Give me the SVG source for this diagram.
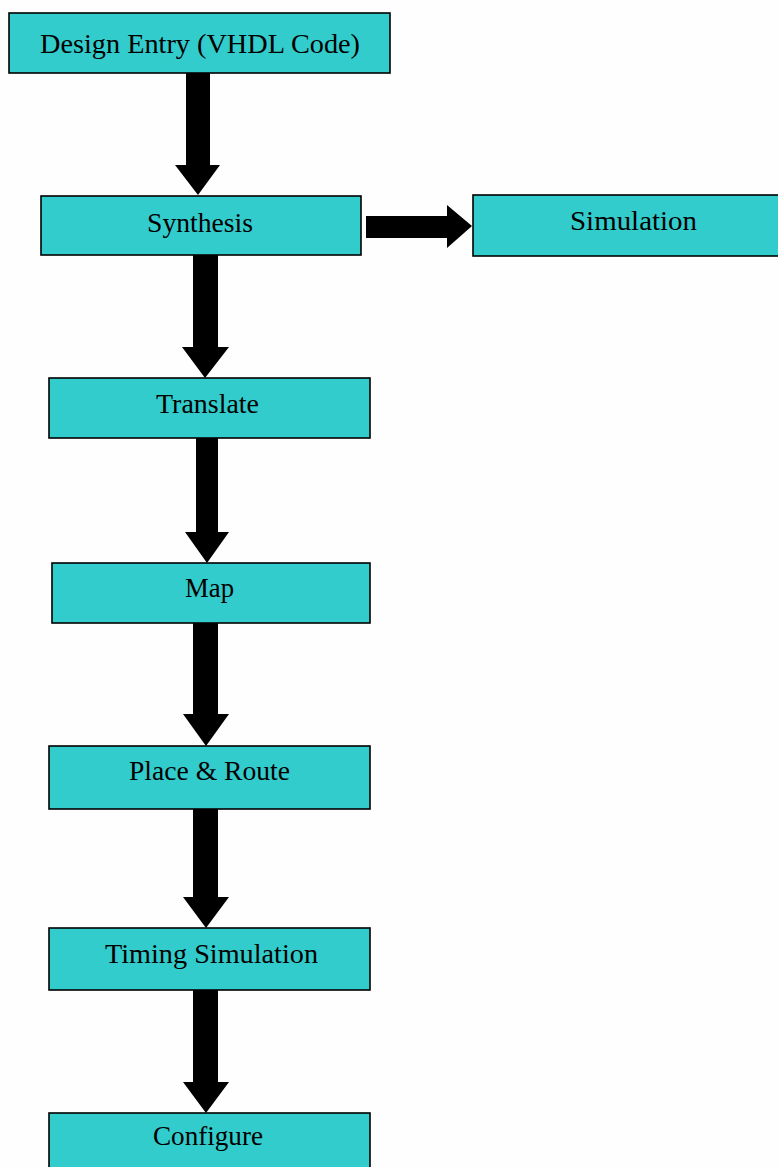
<svg xmlns="http://www.w3.org/2000/svg" width="778" height="1167" viewBox="0 0 778 1167">
  <style>
    .box { fill: #33CCCC; stroke: #000; stroke-width: 1.6; }
    .lbl { font-family: "Liberation Serif", "Times New Roman", serif; font-size: 28px; fill: #000; text-anchor: start; }
    .arr { fill: #000; stroke: none; }
  </style>
  <rect width="778" height="1167" fill="#fefefe"/>

  <!-- connectors: thick block arrows -->
  <g id="connectors">
    <polygon class="arr" points="186,73 210,73 210,165 220,165 198,195 175,165 186,165"/>
    <polygon class="arr" points="366,216 447,216 447,205 472,226 447,248 447,238 366,238"/>
    <polygon class="arr" points="193,255 218,255 218,347 229,347 205,378 182,347 193,347"/>
    <polygon class="arr" points="196,438 218,438 218,532 229,532 207,563 185,532 196,532"/>
    <polygon class="arr" points="193,623 218,623 218,714 229,714 206,746 183,714 193,714"/>
    <polygon class="arr" points="193,809 218,809 218,897 229,897 206,928 183,897 193,897"/>
    <polygon class="arr" points="193,990 218,990 218,1082 229,1082 206,1113 183,1082 193,1082"/>
  </g>

  <g id="design-entry">
    <rect class="box" x="9" y="13" width="381" height="60"/>
    <text class="lbl" x="40" y="53" textLength="320" lengthAdjust="spacingAndGlyphs">Design Entry (VHDL Code)</text>
  </g>
  <g id="synthesis">
    <rect class="box" x="41" y="196" width="320" height="59"/>
    <text class="lbl" x="147" y="232" textLength="106" lengthAdjust="spacingAndGlyphs">Synthesis</text>
  </g>
  <g id="simulation">
    <rect class="box" x="473" y="195" width="310" height="61"/>
    <text class="lbl" x="570" y="230" textLength="127" lengthAdjust="spacingAndGlyphs">Simulation</text>
  </g>
  <g id="translate">
    <rect class="box" x="49" y="378" width="321" height="60"/>
    <text class="lbl" x="156" y="413" textLength="103" lengthAdjust="spacingAndGlyphs">Translate</text>
  </g>
  <g id="map">
    <rect class="box" x="52" y="563" width="318" height="60"/>
    <text class="lbl" x="185" y="597" textLength="49" lengthAdjust="spacingAndGlyphs">Map</text>
  </g>
  <g id="place-route">
    <rect class="box" x="49" y="746" width="321" height="63"/>
    <text class="lbl" x="129" y="780" textLength="161" lengthAdjust="spacingAndGlyphs">Place &amp; Route</text>
  </g>
  <g id="timing-simulation">
    <rect class="box" x="49" y="928" width="321" height="62"/>
    <text class="lbl" x="105" y="963" textLength="213" lengthAdjust="spacingAndGlyphs">Timing Simulation</text>
  </g>
  <g id="configure">
    <rect class="box" x="49" y="1113" width="321" height="70"/>
    <text class="lbl" x="153" y="1145" textLength="110" lengthAdjust="spacingAndGlyphs">Configure</text>
  </g>
</svg>
